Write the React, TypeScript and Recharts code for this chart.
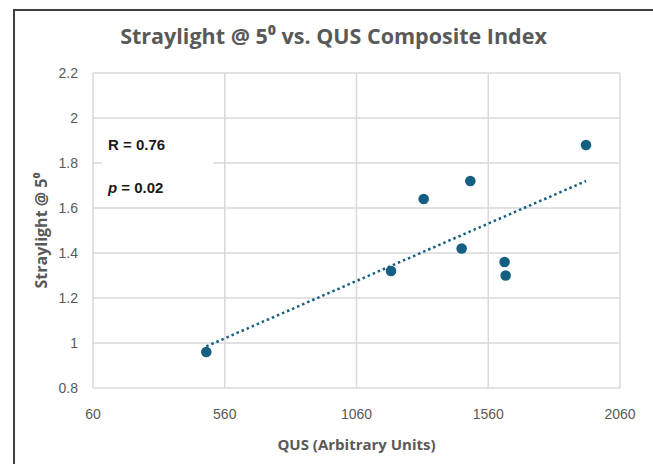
import type { FC } from 'react';
import { CartesianGrid, Scatter, ScatterChart, XAxis, YAxis } from 'recharts';

const qus = [490, 1191, 1315, 1459, 1492, 1622, 1626, 1931];
const straylight = [0.96, 1.32, 1.64, 1.42, 1.72, 1.36, 1.3, 1.88];

const trendQus = [490, 1931];
const trendStraylight = [0.985, 1.72];

const xTicks = [60, 560, 1060, 1560, 2060];
const yTicks = [0.8, 1, 1.2, 1.4, 1.6, 1.8, 2, 2.2];

const points = qus.map((x, i) => ({ x, y: straylight[i] }));
const trend = trendQus.map((x, i) => ({ x, y: trendStraylight[i] }));

const accent = '#156082';
const gridColor = '#d9d9d9';
const labelColor = '#595959';
const titleFont = '"Open Sans", "Noto Sans", sans-serif';

const tickStyle = { fill: labelColor, fontSize: 14, fontFamily: '"Liberation Sans", Arial, sans-serif' } as const;

const Dot = (props: { cx?: number; cy?: number }) => <circle cx={props.cx} cy={props.cy} r={5.3} fill={accent} />;

const App: FC = () => {
  return (
    <div style={{ position: 'fixed', left: 0, top: 0, width: 653, height: 464, background: '#fff', overflow: 'hidden' }}>
      <div
        style={{
          position: 'absolute',
          left: 13,
          top: 9,
          width: 700,
          height: 500,
          borderLeft: '2px solid #404040',
          borderTop: '2px solid #404040',
        }}
      />
      <div
        style={{
          position: 'absolute',
          left: 100,
          width: 467,
          top: 21,
          textAlign: 'center',
          whiteSpace: 'nowrap',
          fontFamily: titleFont,
          fontWeight: 700,
          fontSize: 21.5,
          color: labelColor,
          lineHeight: '30px',
        }}
      >
        Straylight @ 5⁰ vs. QUS Composite Index
      </div>
      <div style={{ position: 'absolute', left: 0, top: 0 }}>
        <ScatterChart width={653} height={464} margin={{ top: 73, right: 33, bottom: 14, left: 20 }}>
          <CartesianGrid stroke={gridColor} strokeWidth={1.5} />
          <XAxis
            type="number"
            dataKey="x"
            domain={[60, 2060]}
            ticks={xTicks}
            interval={0}
            axisLine={false}
            tickLine={false}
            tickSize={0}
            tickMargin={21}
            tick={tickStyle}
            height={62}
            label={{
              value: 'QUS (Arbitrary Units)',
              position: 'insideBottom',
              offset: 0,
              fill: labelColor,
              style: { fontFamily: titleFont, fontWeight: 700, fontSize: 15 },
            }}
          />
          <YAxis
            type="number"
            dataKey="y"
            domain={[0.8, 2.2]}
            ticks={yTicks}
            interval={0}
            axisLine={false}
            tickLine={false}
            tickSize={0}
            tickMargin={15}
            width={73}
            tick={tickStyle}
            tickFormatter={(v: number) => String(Number(v.toFixed(1)))}
            label={{
              value: 'Straylight @ 5⁰',
              angle: -90,
              position: 'insideLeft',
              offset: 21,
              fill: labelColor,
              style: { textAnchor: 'middle', fontFamily: titleFont, fontWeight: 700, fontSize: 16 },
            }}
          />
          <Scatter
            data={trend}
            line={{ stroke: accent, strokeWidth: 2.5, strokeDasharray: '2.5 3' }}
            shape={() => null}
            isAnimationActive={false}
          />
          <Scatter data={points} fill={accent} shape={<Dot />} isAnimationActive={false} />
        </ScatterChart>
      </div>
      <div
        style={{
          position: 'absolute',
          left: 102,
          top: 122,
          width: 111,
          height: 84,
          background: '#fff',
          fontFamily: '"Liberation Sans Narrow", "Liberation Sans", Arial, sans-serif',
          fontWeight: 700,
          fontSize: 15,
          color: '#1a1a1a',
        }}
      >
        <div style={{ position: 'absolute', left: 6, top: 14 }}>R = 0.76</div>
        <div style={{ position: 'absolute', left: 6, top: 57 }}>
          <i>p</i> = 0.02
        </div>
      </div>
    </div>
  );
};

export default App;
